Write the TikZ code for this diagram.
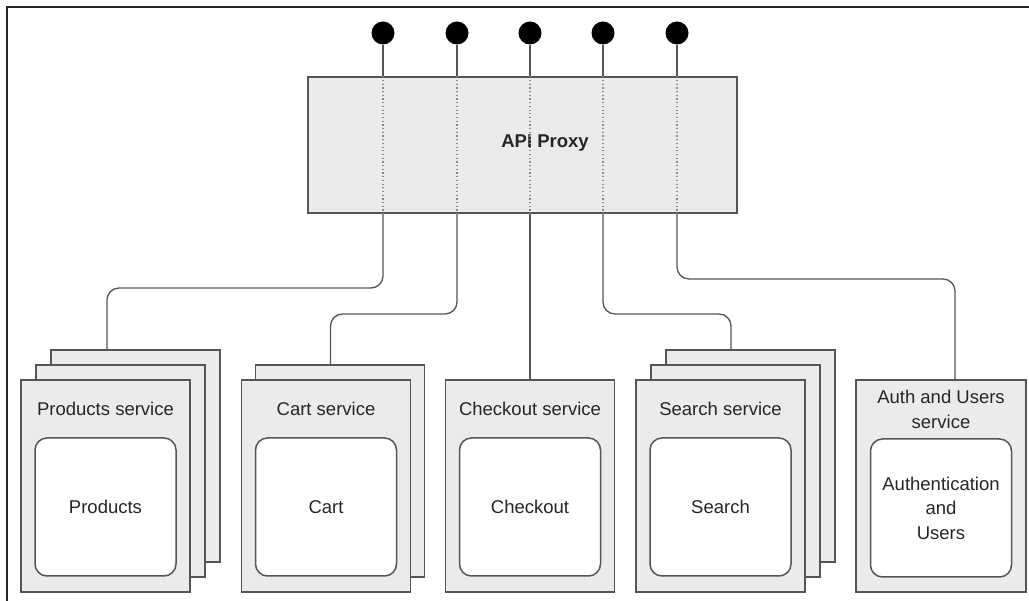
\documentclass[tikz,border=0pt]{standalone}
\usepackage{fontspec}
\setmainfont{Liberation Sans}
\definecolor{edge-grey}{HTML}{555555}
\definecolor{card-fill}{HTML}{EBEBEB}
\definecolor{dot-grey}{HTML}{8A8A8A}
\begin{document}
\begin{tikzpicture}[x=1pt, y=-1pt,
      every node/.style={font=\fontsize{18.5}{24.5}\selectfont, text=black!85},
      svc/.style={draw=edge-grey, line width=1.5pt, fill=card-fill,
          minimum width=169pt, minimum height=212pt, inner sep=0pt},
      core/.style={draw=edge-grey, line width=1.5pt, fill=white,
          rounded corners=12pt, minimum width=141pt, minimum height=138pt,
          inner sep=0pt, align=center},
      pin/.style={circle, fill=black, minimum size=23pt, inner sep=0pt},
      wire/.style={edge-grey, line width=1.3pt, rounded corners=12pt}]
    \useasboundingbox (0,0) rectangle (1029,601);
    \draw[black!85, line width=2pt] (6.5,601) -- (6.5,7.5) -- (1029,7.5);

    % proxy with its five entry points
    \node[draw=edge-grey, line width=1.5pt, fill=card-fill, minimum width=429pt,
          minimum height=136pt] (proxy) at (522.5,145) {};
    \node[font=\fontsize{18.5}{24.5}\selectfont\bfseries] (proxylabel)
          at (545,143) {API Proxy};
    \foreach \px [count=\i] in {383,457,530,603,677} {
      \node[pin] (pin\i) at (\px,33) {};
      \draw[edge-grey, line width=1.3pt] (pin\i.south) -- (pin\i |- proxy.north);
      \draw[dot-grey, line width=1.2pt, dash pattern=on 1.2pt off 2.5pt]
          (pin\i |- proxy.north) -- (pin\i |- proxy.south);
    }

    % services (back copies first)
    \node[svc] (prodC) at (135.5,456) {};
    \node[svc] (prodB) at (120.5,471) {};
    \node[svc] (prodA) at (105.5,486) {};
    \node (prodtitle) at (105.5,409) {Products service};
    \node[core] (prodcore) at (105.5,507) {Products};

    \node[svc] (cartB) at (340,471) {};
    \node[svc] (cartA) at (326,486) {};
    \node (carttitle) at (326,409) {Cart service};
    \node[core] (cartcore) at (326,507) {Cart};

    \node[svc] (checkA) at (530,486) {};
    \node (checktitle) at (530,409) {Checkout service};
    \node[core] (checkcore) at (530,507) {Checkout};

    \node[svc] (searchC) at (750.5,456) {};
    \node[svc] (searchB) at (735.5,471) {};
    \node[svc] (searchA) at (720.5,486) {};
    \node (searchtitle) at (720.5,409) {Search service};
    \node[core] (searchcore) at (720.5,507) {Search};

    \node[svc, minimum width=170pt] (authA) at (941,486) {};
    \node[align=center] (authtitle) at (941,409.5) {Auth and Users\\service};
    \node[core] (authcore) at (941,508) {Authentication\\and\\Users};

    % proxy to services
    \draw[wire] (pin1 |- proxy.south) -- (pin1 |- 0,288)
        -| ([xshift=-28.5pt]prodC.north);
    \draw[wire] (pin2 |- proxy.south) -- (pin2 |- 0,314)
        -| ([xshift=-9.5pt]cartB.north);
    \draw[wire] (pin3 |- proxy.south) -- (checkA.north);
    \draw[wire] (pin4 |- proxy.south) -- (pin4 |- 0,314)
        -| ([xshift=-19.5pt]searchC.north);
    \draw[wire] (pin5 |- proxy.south) -- (pin5 |- 0,279)
        -| ([xshift=14pt]authA.north);
  \end{tikzpicture}
\end{document}
